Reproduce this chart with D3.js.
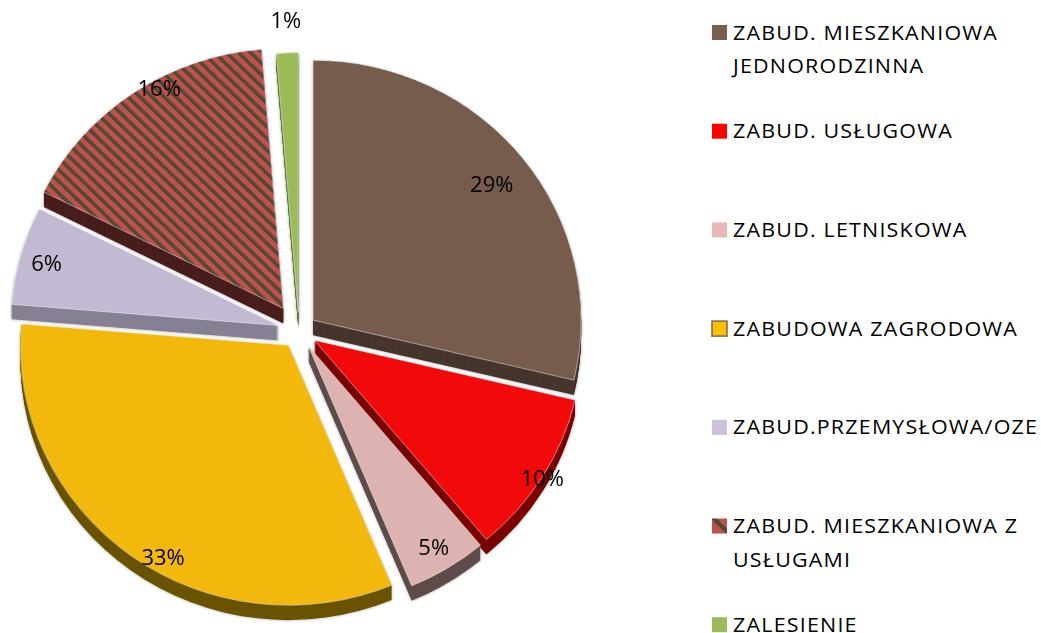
<!DOCTYPE html>
<html>

<head>
    <meta charset="utf-8" />
    <title>Struktura zabudowy</title>
    <script src="https://d3js.org/d3.v7.min.js"></script>
    <style>
        body { margin: 0; background: #fff; }
        text { font-family: "Open Sans", "DejaVu Sans", sans-serif; fill: #000; }
    </style>
</head>

<body>
    <div id="my_dataviz"></div>
</body>

</html>
<script>
    // data (clockwise from 12 o'clock)
    const categories = [
        "ZABUD. MIESZKANIOWA JEDNORODZINNA",
        "ZABUD. USŁUGOWA",
        "ZABUD. LETNISKOWA",
        "ZABUDOWA ZAGRODOWA",
        "ZABUD.PRZEMYSŁOWA/OZE",
        "ZABUD. MIESZKANIOWA Z USŁUGAMI",
        "ZALESIENIE"
    ];
    const values = [28.7, 10.2, 4.8, 32.6, 6.1, 16.3, 1.3];
    // legend wrapped the same way as the original
    const legendLines = [
        ["ZABUD. MIESZKANIOWA", "JEDNORODZINNA"],
        ["ZABUD. USŁUGOWA"],
        ["ZABUD. LETNISKOWA"],
        ["ZABUDOWA ZAGRODOWA"],
        ["ZABUD.PRZEMYSŁOWA/OZE"],
        ["ZABUD. MIESZKANIOWA Z", "USŁUGAMI"],
        ["ZALESIENIE"]
    ];

    // styles
    const faceColors = ["#775c4e", "#f20a0a", "#ddb3b1", "#f2b80c", "#c3b9d2", "url(#hatch)", "#9bbb59"];
    const sideColors = ["#45352c", "#7a0000", "#5e4c4b", "#6b5300", "#878094", "#4a201e", "#5d7535"];
    const legendColors = ["#7a5f50", "#ff0000", "#e6b9b8", "#ffc000", "#ccc0da", "url(#hatchLegend)", "#9bbb59"];
    const explode = [18, 18, 18, 18, 21, 28, 19];
    // label placement: radius share and angle nudge (deg) from slice middle
    const labelR = [0.85, 1.0, 0.9, 0.935, 0.9, 0.97, 1.13];
    const labelTurn = [0, 0, 0, -6, 0, 5.5, 0];

    const width = 1041, height = 633;
    const cx = 299, cy = 331, rx = 268, ry = 260, depth = 15;
    const k = ry / rx;

    const svg = d3.select("#my_dataviz")
        .append("svg")
        .attr("width", width)
        .attr("height", height);

    const defs = svg.append("defs");

    // diagonal stripes for the mixed slice
    const hatch = defs.append("pattern")
        .attr("id", "hatch")
        .attr("patternUnits", "userSpaceOnUse")
        .attr("width", 8.5).attr("height", 8.5)
        .attr("patternTransform", "rotate(-45)");
    hatch.append("rect").attr("width", 8.5).attr("height", 8.5).attr("fill", "#c0504d");
    hatch.append("rect").attr("width", 3.6).attr("height", 8.5).attr("fill", "#4f4a33");

    const hl = defs.append("linearGradient")
        .attr("id", "hatchLegend")
        .attr("x1", 0).attr("y1", 1).attr("x2", 1).attr("y2", 0);
    [[0, "#c0504d"], [0.45, "#c0504d"], [0.45, "#4f4a33"], [0.65, "#4f4a33"], [0.65, "#c0504d"], [1, "#c0504d"]]
        .forEach(s => hl.append("stop").attr("offset", s[0]).attr("stop-color", s[1]));

    const shadow = defs.append("filter").attr("id", "soft")
        .attr("x", "-10%").attr("y", "-10%").attr("width", "120%").attr("height", "120%");
    shadow.append("feDropShadow")
        .attr("dx", 0).attr("dy", 0).attr("stdDeviation", 1.6)
        .attr("flood-color", "#000").attr("flood-opacity", 0.35);

    const pie = d3.pie().sort(null).value(d => d)(values);
    const arc = d3.arc().innerRadius(0).outerRadius(rx);

    const mid = d => (d.startAngle + d.endAngle) / 2;
    const apex = (d, i) => [cx + explode[i] * Math.sin(mid(d)), cy - explode[i] * Math.cos(mid(d)) * k];

    // sides first (stacked copies pushed down), then all the tops
    const sides = svg.append("g").attr("filter", "url(#soft)");
    pie.forEach((d, i) => {
        const [x, y] = apex(d, i);
        d3.range(depth, 0, -1).forEach(z => {
            sides.append("path")
                .attr("transform", `translate(${x},${y + z}) scale(1,${k})`)
                .attr("d", arc(d))
                .attr("fill", sideColors[i]);
        });
    });

    const tops = svg.append("g");
    pie.forEach((d, i) => {
        const [x, y] = apex(d, i);
        tops.append("path")
            .attr("transform", `translate(${x},${y}) scale(1,${k})`)
            .attr("d", arc(d))
            .attr("fill", faceColors[i])
            .attr("stroke", "#fff")
            .attr("stroke-opacity", 0.6)
            .attr("stroke-width", 0.8);
    });

    // percentage labels
    const labelAngle = (d, i) => mid(d) + labelTurn[i] * Math.PI / 180;
    svg.append("g")
        .selectAll("text")
        .data(pie)
        .join("text")
        .attr("x", (d, i) => apex(d, i)[0] + labelR[i] * rx * Math.sin(labelAngle(d, i)))
        .attr("y", (d, i) => apex(d, i)[1] - labelR[i] * ry * Math.cos(labelAngle(d, i)))
        .attr("text-anchor", "middle")
        .attr("dominant-baseline", "central")
        .style("font-size", "22px")
        .text(d => Math.round(d.data) + "%");

    // legend
    const sx = 1.1;
    const legend = svg.append("g").attr("transform", "translate(712,0)");
    const item = legend.selectAll("g")
        .data(categories)
        .join("g")
        .attr("transform", (d, i) => `translate(0,${39.5 + i * 98.7})`);
    item.append("rect")
        .attr("x", 0).attr("y", -14.5)
        .attr("width", 15).attr("height", 15)
        .attr("fill", (d, i) => legendColors[i])
        .attr("stroke", (d, i) => i === 3 ? "#7f6650" : "none")
        .attr("stroke-width", 1.5);
    item.append("text")
        .attr("transform", `translate(21,0) scale(${sx},1)`)
        .style("font-size", "19.5px")
        .style("letter-spacing", "1.1px")
        .selectAll("tspan")
        .data((d, i) => legendLines[i])
        .join("tspan")
        .attr("x", 0)
        .attr("dy", (d, j) => j === 0 ? 0 : 34)
        .text(d => d);
</script>
